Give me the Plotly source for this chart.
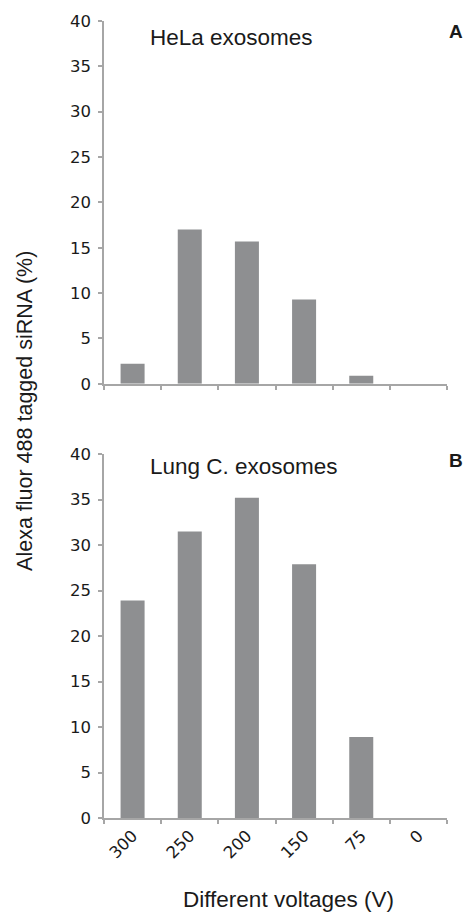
import plotly.graph_objects as go
from plotly.subplots import make_subplots

voltages = ["300", "250", "200", "150", "75", "0"]
hela_values = [2.2, 17.0, 15.7, 9.3, 0.9, 0.0]
lung_values = [23.9, 31.5, 35.2, 27.9, 8.9, 0.0]
y_ticks = [0, 5, 10, 15, 20, 25, 30, 35, 40]

BAR = "#8e8f91"
AXIS = "#a6a6a6"
TXT = "#1a1a1a"

fig = make_subplots(rows=2, cols=1, vertical_spacing=0.0883)
fig.add_trace(go.Bar(x=voltages, y=hela_values, marker_color=BAR, marker_line_width=0), row=1, col=1)
fig.add_trace(go.Bar(x=voltages, y=lung_values, marker_color=BAR, marker_line_width=0), row=2, col=1)

fig.update_layout(
    width=469, height=920,
    margin=dict(l=104, r=22, t=14, b=102),
    paper_bgcolor="white", plot_bgcolor="white",
    showlegend=False, bargap=0.58,
    font=dict(family="Liberation Sans, Arial, sans-serif", color=TXT),
)
fig.update_layout(
    yaxis=dict(domain=[0.5448, 1.0]),
    yaxis2=dict(domain=[0.0, 0.4565]),
)

for r in (1, 2):
    fig.update_xaxes(
        row=r, col=1, type="category", showline=True, linecolor=AXIS, linewidth=1.5,
        ticks="outside", tickson="boundaries", ticklen=4, tickcolor=AXIS, tickwidth=1.5,
        showgrid=False, zeroline=False,
        showticklabels=(r == 2), tickangle=-45,
        tickfont=dict(family="DejaVu Sans, Verdana, sans-serif", size=16.5, color=TXT),
    )
    fig.update_yaxes(
        row=r, col=1, range=[0, 40], tickvals=y_ticks, showline=True, linecolor=AXIS, linewidth=1.5,
        ticks="outside", ticklen=4, tickcolor=AXIS, tickwidth=1.5, showgrid=False, zeroline=False,
        ticklabelstandoff=4,
        tickfont=dict(family="DejaVu Sans, Verdana, sans-serif", size=16.5, color=TXT),
    )

ann = [
    dict(text="HeLa exosomes", x=0.128, y=0.979, xanchor="left", yanchor="middle",
         font=dict(size=22.5)),
    dict(text="Lung C. exosomes", x=0.128, y=0.4415, xanchor="left", yanchor="middle",
         font=dict(size=22.5)),
    dict(text="<b>A</b>", x=1.026, y=0.987, xanchor="center", yanchor="middle", font=dict(size=19)),
    dict(text="<b>B</b>", x=1.026, y=0.448, xanchor="center", yanchor="middle", font=dict(size=19)),
    dict(text="Different voltages (V)", x=0.538, y=-0.102, xanchor="center", yanchor="middle",
         font=dict(size=22.5)),
    dict(text="Alexa fluor 488 tagged siRNA (%)", x=-0.2297, y=0.511, xanchor="center",
         yanchor="middle", textangle=-90, font=dict(size=21.5)),
]
for a in ann:
    a.update(xref="paper", yref="paper", showarrow=False)
    fig.add_annotation(**a)

fig.write_html(
    "out.html",
    config={"displayModeBar": False},
    post_script="document.body.style.margin='0';document.body.style.overflow='hidden';",
)
